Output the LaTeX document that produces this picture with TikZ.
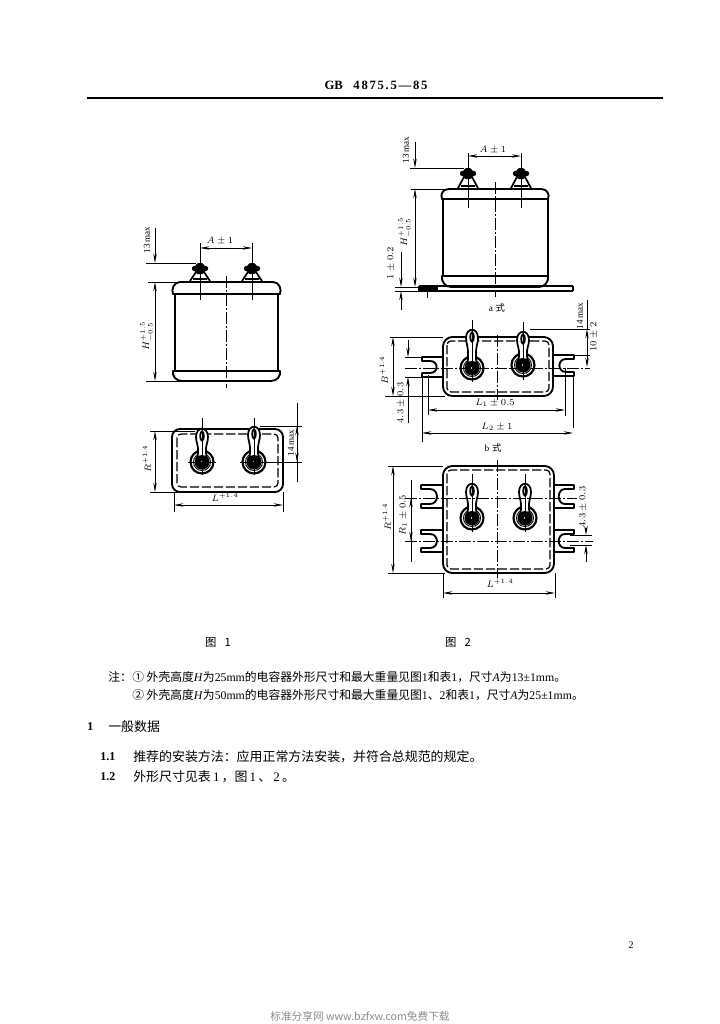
\documentclass[tikz,border=0pt]{standalone}
\usepackage{fontspec}
\setmainfont{Liberation Serif}
\newfontfamily\cjk{Noto Sans CJK SC}
\usetikzlibrary{arrows.meta}
\tikzset{
 px/.style={x=0.75pt,y=-0.75pt},
 outline/.style={line width=1.4pt,line join=round,line cap=round},
 inner box/.style={line width=0.9pt,dash pattern=on 7pt off 2pt,rounded corners=3pt},
 thin line/.style={line width=0.5pt},
 centre line/.style={line width=0.5pt,dash pattern=on 9pt off 1.5pt on 1.5pt off 1.5pt},
 dim/.style={line width=0.55pt,{Stealth[length=7pt,width=2.6pt]}-{Stealth[length=7pt,width=2.6pt]}},
 dimout/.style={line width=0.55pt,-{Stealth[length=7pt,width=2.6pt]}},
 lab/.style={font=\fontsize{6.8}{7}\selectfont,inner sep=0pt},
 rlab/.style={lab,rotate=90},
 note/.style={anchor=west,inner sep=0pt,font=\fontsize{8.85}{10}\selectfont},
 body/.style={anchor=west,inner sep=0pt,font=\fontsize{9.7}{11}\selectfont},
 numb/.style={anchor=west,inner sep=0pt,font=\bfseries\fontsize{9}{11}\selectfont},
}
% can side view: left right top capline band bottom bodyleft bodyright
\newcommand\CanSide[8]{%
 \draw[outline] (#7,#4) -- (#7,#5) (#8,#4) -- (#8,#5);
 \draw[outline] (#1+1,#4) .. controls (#1-1,#4-5) and (#1+2,#3) .. (#1+8,#3) -- (#2-8,#3) .. controls (#2-2,#3) and (#2+1,#4-5) .. (#2-1,#4);
 \draw[outline] (#1+1,#4) -- (#2-1,#4);
 \draw[outline] (#1+1,#5) -- (#2-1,#5);
 \draw[outline] (#1+1,#5) .. controls (#1,#5+5) and (#1+4,#6) .. (#1+10,#6) -- (#2-10,#6) .. controls (#2-4,#6) and (#2,#5+5) .. (#2-1,#5);
}
% terminal side view: x top base
\newcommand\TermSide[3]{%
 \draw[outline] (#1-13,#3) -- (#1+13,#3);
 \draw[line width=1.3pt] (#1-10,#3-1) -- (#1-4,#2+9)
   (#1+10,#3-1) -- (#1+4,#2+9)
   (#1-7,#3-3) -- (#1+7,#3-3);
 \fill[rounded corners=1.5pt] (#1-8,#2+3) -- (#1-3.5,#2+3) -- (#1-3.5,#2) -- (#1+3.5,#2) -- (#1+3.5,#2+3) -- (#1+8,#2+3)
   -- (#1+8,#2+8) -- (#1+4,#2+8) -- (#1+4,#2+11) -- (#1-4,#2+11) -- (#1-4,#2+8) -- (#1-8,#2+8) -- cycle;
}
% solder lug top view: x top circle-y
\newcommand\LugTop[3]{%
 \draw[line width=1.6pt] (#1,#3) circle[radius=11.5];
 \draw[line width=0.7pt] (#1,#3) circle[radius=8.5];
 \fill (#1,#3) circle[radius=7.5];
 \draw[line width=1.3pt,fill=white] (#1-6,#2+9)
   .. controls (#1-6,#2-2) and (#1+6,#2-2) .. (#1+6,#2+9)
   .. controls (#1+6,#2+15) and (#1+3.5,#2+16) .. (#1+4,#3-9)
   .. controls (#1+4,#3-5) and (#1+6,#3-3) .. (#1+6,#3)
   -- (#1-6,#3)
   .. controls (#1-6,#3-3) and (#1-4,#3-5) .. (#1-4,#3-9)
   .. controls (#1-3.5,#2+16) and (#1-6,#2+15) .. (#1-6,#2+9) -- cycle;
 \draw[line width=1.4pt] (#1,#2+8) ellipse[x radius=1.8,y radius=4.5];
 \fill (#1,#3) circle[radius=7];
 \fill[white] (#1,#3) circle[radius=1.2];
}
% mounting ears: body-x outer-x slot-x top bottom
\newcommand\Ear[5]{%
 \draw[outline] (#1,#4) -- (#2,#4) -- (#2,#4+4) -- (#3,#4+4)
   .. controls ({#3+(#1-#2)*0.42},#4+4) and ({#3+(#1-#2)*0.42},#5-4) .. (#3,#5-4)
   -- (#2,#5-4) -- (#2,#5) -- (#1,#5);
}
\begin{document}
\begin{tikzpicture}[px]
\useasboundingbox[fill=white] (0,0) rectangle (720,1024);

% header
\node[inner sep=0pt,font=\bfseries\fontsize{9.5}{11}\selectfont] (title) at (376,85) {GB\hspace{8pt}4\hspace{1.3pt}8\hspace{1.3pt}7\hspace{1.3pt}5\hspace{1.3pt}.\hspace{1.3pt}5\hspace{1.3pt}—\hspace{1.3pt}8\hspace{1.3pt}5};
\draw[line width=1.2pt] (87,98) -- (663,98);

%%%% Figure 1 side view
\CanSide{172}{281}{282}{294}{371}{381}{175}{278}
\TermSide{200}{263}{282}
\TermSide{252}{263}{282}
\draw[centre line] (226,276) -- (226,388);
\draw[thin line] (200,243) -- (200,300) (252,243) -- (252,300);
\draw[dim] (200,248) -- (252,248);
\draw[thin line] (146,263) -- (196,263) (148,282) -- (180,282) (146,381) -- (190,381);
\draw[dimout] (155,228) -- (155,263);
\draw[dim] (155,282) -- (155,381);
\node[rlab] (f1a) at (147,240) {13 max};
\node[lab] (f1b) at (220,241) {$A\pm1$};
\node[rlab] (f1c) at (147,336) {$H^{+1.5}_{-0.5}$};

%%%% Figure 1 top view
\draw[outline,rounded corners=6pt] (172,429) rectangle (283,492);
\draw[inner box] (177,434) rectangle (278,487);
\LugTop{202}{428}{462}
\LugTop{254}{426}{462}
\draw[thin line] (202,418) -- (202,475) (254,418) -- (254,475)
  (188,462) -- (216,462) (240,462) -- (268,462);
\draw[thin line] (150,431) -- (195,431) (150,492) -- (178,492)
  (260,426) -- (302,426) (266,462) -- (302,462)
  (174,492) -- (174,512) (283,492) -- (283,512);
\draw[dim] (155,431) -- (155,492);
\draw[dim] (297,426) -- (297,462);
\draw[thin line] (297,403) -- (297,482);
\draw[dim] (174,505) -- (283,505);
\node[rlab] (f1d) at (147,459) {$R^{+1.4}$};
\node[rlab] (f1e) at (291,443) {14 max};
\node[lab] (f1f) at (225,497) {$L^{+1.4}$};
\node[inner sep=0pt,font=\cjk\fontsize{8.5}{10}\selectfont] (f1cap) at (218,642) {图\hspace{6pt}1};

%%%% Figure 2a side view
\CanSide{441}{549}{189}{199}{276}{287}{443}{548}
\TermSide{468}{168}{189}
\TermSide{521}{168}{189}
\draw[line width=1.1pt] (419,286) -- (573,286) (419,291) -- (573,291) (573,286) -- (573,291) (419,286) -- (419,291);
\draw[line width=2.4pt] (420,288.5) -- (438,288.5);
\draw[centre line] (495,182) -- (495,297);
\draw[thin line] (468,153) -- (468,208) (521,153) -- (521,208);
\draw[dim] (468,156) -- (521,156);
\draw[thin line] (410,168) -- (464,168) (411,189) -- (445,189) (395,287) -- (420,287) (395,291) -- (425,291) (427,285) -- (427,298);
\draw[dimout] (415,142) -- (415,168);
\draw[dim] (415,189) -- (415,287);
\draw[dimout] (401,252) -- (401,287);
\draw[dimout] (401,310) -- (401,291);
\node[rlab] (f2a) at (406,150) {13 max};
\node[lab] (f2b) at (493,150) {$A\pm1$};
\node[rlab] (f2c) at (405,232) {$H^{+1.5}_{-0.5}$};
\node[rlab] (f2d) at (391,263) {$1\pm0.2$};
\node[inner sep=0pt,font=\fontsize{7}{8}\selectfont] (f2e) at (497,308) {a\hspace{2pt}{\cjk 式}};

%%%% Figure 2b top view
\Ear{443}{422}{430}{357}{377}
\Ear{553}{574}{566}{355}{376}
\draw[outline,rounded corners=7pt] (443,337) rectangle (553,396);
\draw[inner box] (447,341) rectangle (549,392);
\LugTop{472}{329}{368}
\LugTop{523}{331}{365}
\draw[centre line] (497,335) -- (497,400);
\draw[centre line] (405,368) -- (590,368);
\draw[thin line] (472,320) -- (472,382) (523,322) -- (523,380);
\draw[thin line] (390,337) -- (443,337) (385,396) -- (445,396)
  (405,357) -- (428,357) (405,377) -- (428,377)
  (530,329) -- (590,329) (574,355) -- (590,355)
  (428,375) -- (428,415) (565,368) -- (565,416)
  (422,377) -- (422,442) (573,376) -- (573,428);
\draw[dim] (393,337) -- (393,396);
\draw[dimout] (408,340) -- (408,357);
\draw[dimout] (408,423) -- (408,377);
\draw[dim] (587,329) -- (587,367);
\draw[thin line] (587,300) -- (587,329);
\draw[dim] (428,410) -- (565,410);
\draw[dim] (422,433) -- (573,433);
\node[rlab] (f2f) at (384,370) {$B^{+1.4}$};
\node[rlab] (f2g) at (401,403) {$4.3\pm0.3$};
\node[rlab] (f2h) at (580,316) {14 max};
\node[rlab] (f2i) at (594,337) {$10\pm2$};
\node[lab] (f2j) at (495,403) {$L_1\pm0.5$};
\node[lab] (f2k) at (497,427) {$L_2\pm1$};
\node[inner sep=0pt,font=\fontsize{7}{8}\selectfont] (f2l) at (493,448) {b\hspace{2pt}{\cjk 式}};

%%%% Figure 2c top view
\Ear{443}{421}{430}{485}{508}
\Ear{443}{421}{430}{530}{552}
\Ear{554}{574}{565}{485}{508}
\Ear{554}{574}{565}{530}{552}
\draw[outline,rounded corners=7pt] (443,466) rectangle (554,573);
\draw[inner box] (447,470) rectangle (550,569);
\LugTop{472}{483}{518}
\LugTop{525}{483}{518}
\draw[centre line] (497,460) -- (497,578);
\draw[centre line] (405,498) -- (577,498) (405,541) -- (593,541);
\draw[thin line] (472,474) -- (472,532) (525,474) -- (525,532);
\draw[thin line] (388,466) -- (443,466) (388,573) -- (445,573)
  (570,535) -- (592,535) (570,545) -- (592,545)
  (443,573) -- (443,598) (555,573) -- (555,598);
\draw[dim] (393,466) -- (393,573);
\draw[dim] (411,498) -- (411,541);
\draw[thin line] (411,480) -- (411,562);
\draw[dimout] (586,529) -- (586,535);
\draw[dimout] (586,562) -- (586,545);
\draw[dim] (443,593) -- (555,593);
\node[rlab] (f2m) at (387,517) {$R^{+1.4}$};
\node[rlab] (f2n) at (403,515) {$R_1\pm0.5$};
\node[rlab] (f2o) at (583,507) {$4.3\pm0.3$};
\node[lab] (f2p) at (500,583) {$L^{+1.4}$};
\node[inner sep=0pt,font=\cjk\fontsize{8.5}{10}\selectfont] (f2cap) at (458,642) {图\hspace{6pt}2};

%%%% Text
\node[note] (n0) at (108,677) {\cjk 注：};
\node[note] (n1) at (132,677) {{\cjk ① 外壳高度}\textit{H}{\cjk 为}25mm{\cjk 的电容器外形尺寸和最大重量见图}1{\cjk 和表}1{\cjk ，尺寸}\textit{A}{\cjk 为}13±1mm{\cjk 。}};
\node[note] (n2) at (132,695) {{\cjk ② 外壳高度}\textit{H}{\cjk 为}50mm{\cjk 的电容器外形尺寸和最大重量见图}1{\cjk 、}2{\cjk 和表}1{\cjk ，尺寸}\textit{A}{\cjk 为}25±1mm{\cjk 。}};
\node[numb] (s1) at (87,727) {1};
\node[body] (s1t) at (108,727) {\cjk 一般数据};
\node[numb] (s11) at (100,757) {1.1};
\node[body] (s11t) at (133,757) {\cjk 推荐的安装方法：应用正常方法安装，并符合总规范的规定。};
\node[numb] (s12) at (100,777) {1.2};
\node[body] (s12t) at (133,777) {{\cjk 外形尺寸见表}\,1\,{\cjk ，图}\,1\,{\cjk 、}\,2\,{\cjk 。}};
\node[inner sep=0pt,font=\fontsize{7.5}{8}\selectfont] (pg) at (631,945) {2};
\node[inner sep=0pt,text=black!45,font=\cjk\fontsize{8}{10}\selectfont] (wm) at (360,1016) {标准分享网 www.bzfxw.com免费下载};
\end{tikzpicture}
\end{document}
